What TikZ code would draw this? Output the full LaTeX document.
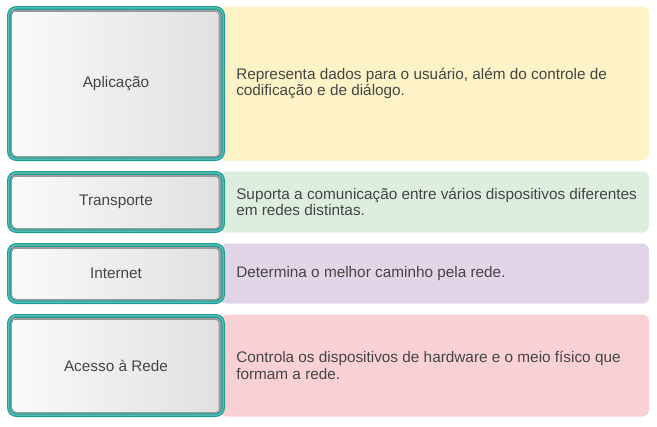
\documentclass[tikz,border=0pt]{standalone}
\usepackage{fontspec}
\setmainfont{Liberation Sans}
\definecolor{tealout}{HTML}{1E9D95}
\definecolor{teallight}{HTML}{74CBC4}
\definecolor{boxgray}{HTML}{9A9A9A}
\definecolor{txt}{HTML}{454545}
\definecolor{bandY}{HTML}{FEF3C6}
\definecolor{bandG}{HTML}{DDEEDF}
\definecolor{bandP}{HTML}{E1D5E7}
\definecolor{bandR}{HTML}{F9D1D5}
\tikzset{
  lbl/.style={text=txt, font=\fontsize{11.5}{12.6}\selectfont, inner sep=0pt},
  desc/.style={lbl, anchor=west, align=left},
}
\newcommand{\layerrow}[6]{%
  % #1 name, #2 top, #3 bottom, #4 band colour, #5 label, #6 description
  \fill[#4, rounded corners=5] (220,#2+0.5) rectangle (649,#3-0.5);
  \fill[tealout, rounded corners=7] (7,#2) rectangle (225,#3);
  \draw[teallight, line width=0.7, rounded corners=5.5] (8.9,#2+1.9) rectangle (223.1,#3-1.9);
  \shade[left color=white!98!black, right color=white!88!black, rounded corners=4] (11,#2+4) rectangle (221,#3-4);
  \draw[boxgray, line width=0.8, rounded corners=4] (11.4,#2+4.4) rectangle (220.6,#3-4.4);
  \draw[boxgray, line width=1.2, rounded corners=3] (12,#2+5) -- (219.5,#2+5) -- (219.5,#3-6);
  \node[lbl] (#1) at (116,{(#2+#3)/2}) {#5};
  \node[desc] (#1d) at (236,{(#2+#3)/2}) {#6};
}
\begin{document}
\begin{tikzpicture}[x=0.75pt,y=-0.75pt]
\useasboundingbox (0,0) rectangle (657,426);
\layerrow{app}{6}{161}{bandY}{Aplicação}{Representa dados para o usuário, além do controle de\\codificação e de diálogo.}
\layerrow{tra}{171}{233}{bandG}{Transporte}{Suporta a comunicação entre vários dispositivos diferentes\\em redes distintas.}
\layerrow{int}{243}{304}{bandP}{Internet}{Determina o melhor caminho pela rede.}
\layerrow{acc}{314}{417}{bandR}{Acesso à Rede}{Controla os dispositivos de hardware e o meio físico que\\formam a rede.}
\end{tikzpicture}
\end{document}
